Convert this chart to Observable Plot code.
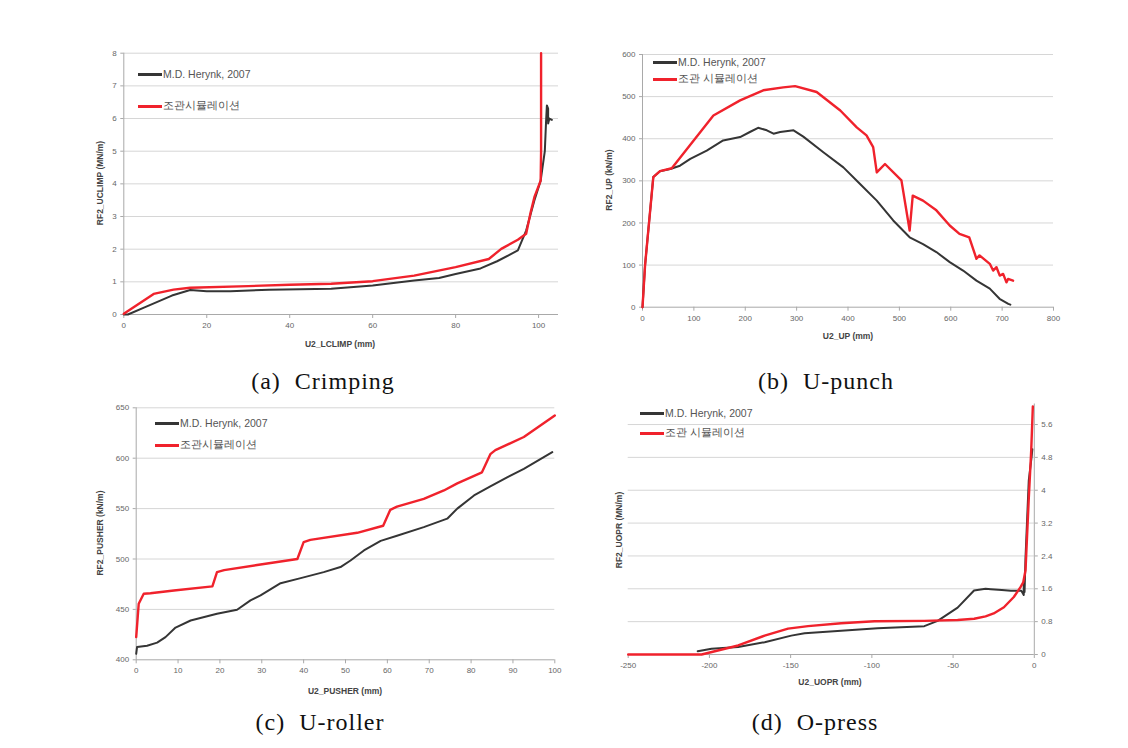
<!DOCTYPE html>
<html>
<head>
<meta charset="utf-8">
<script src="https://cdn.jsdelivr.net/npm/d3@7"></script>
<script src="https://cdn.jsdelivr.net/npm/@observablehq/plot@0.6"></script>
<style>
  html, body { margin: 0; padding: 0; background: #fff; }
  #page { position: relative; width: 1128px; height: 748px; overflow: hidden; font-family: "Liberation Sans", Arial, sans-serif; }
  .panel { position: absolute; }
  .ytitle, .xtitle { position: absolute; font-size: 8.5px; font-weight: bold; color: #444; white-space: nowrap; }
  .ytitle { transform: translate(-50%, -50%) rotate(-90deg); }
  .xtitle { transform: translate(-50%, -50%); }
  .leg { position: absolute; font-size: 10.5px; color: #555; white-space: nowrap; display: flex; align-items: center; }
  .leg i { display: inline-block; width: 24px; height: 3px; margin-right: 1px; }
  .cap { position: absolute; font-family: "Liberation Serif", "DejaVu Serif", serif; font-size: 24px; letter-spacing: 1px; color: #111; white-space: pre; transform: translate(-50%, -50%); }
</style>
</head>
<body>
<div id="page"></div>
<script>
// ---------- (a) Crimping ----------
const aBlackX = [0, 1, 5, 11.6, 16, 20, 25.7, 35, 50, 60, 70, 76, 80, 86, 90, 95, 97, 99, 100.5, 101.5, 101.8, 102, 102.3, 102.3, 102.6, 103.2];
const aBlackY = [0, 0, 0.22, 0.58, 0.75, 0.71, 0.71, 0.76, 0.79, 0.89, 1.04, 1.12, 1.24, 1.41, 1.63, 1.96, 2.57, 3.5, 4.1, 5.0, 5.9, 6.4, 6.3, 5.85, 6.0, 5.96];
const aRedX = [0, 7.2, 12, 16, 30, 40, 50, 60, 70, 80, 88, 91, 95, 97, 98, 99, 100.5, 100.6, 100.6];
const aRedY = [0.02, 0.63, 0.76, 0.82, 0.87, 0.91, 0.94, 1.02, 1.19, 1.45, 1.70, 2.01, 2.29, 2.47, 3.08, 3.6, 4.1, 4.98, 8.0];
const aXTicks = [0, 20, 40, 60, 80, 100];
const aYTicks = [0, 1, 2, 3, 4, 5, 6, 7, 8];

// ---------- (b) U-punch ----------
const bBlackX = [0, 5, 21, 34, 54, 73, 93, 125, 157, 190, 209, 225, 242, 255, 268, 294, 313, 352, 391, 423, 456, 488, 520, 546, 572, 598, 624, 650, 676, 695, 712, 716];
const bBlackY = [0, 100, 309, 323, 328, 336, 352, 372, 396, 404, 416, 426, 420, 412, 416, 420, 405, 368, 332, 293, 253, 206, 166, 150, 131, 107, 87, 63, 44, 20, 8, 6];
const bRedX = [0, 5, 21, 34, 57, 138, 190, 235, 274, 297, 339, 385, 417, 436, 449, 456, 472, 504, 520, 526, 546, 572, 598, 617, 636, 650, 656, 676, 682.5, 689, 695.4, 702, 708.4, 711.6, 721.3];
const bRedY = [0, 100, 309, 323, 330, 455, 491, 515, 522, 525, 511, 467, 427, 408, 380, 320, 340, 301, 182, 265, 253, 230, 194, 174, 166, 115, 123, 103, 87, 95, 75, 79, 59, 67, 63];
const bXTicks = [0, 100, 200, 300, 400, 500, 600, 700, 800];
const bYTicks = [0, 100, 200, 300, 400, 500, 600];

// ---------- (c) U-roller ----------
const cBlackX = [0, 0.2, 2.6, 5, 7, 9.4, 13, 19.3, 24.1, 27.3, 29.7, 34.5, 39.3, 44.8, 48.8, 51.2, 54.4, 58.4, 62.3, 68.7, 74.3, 76.7, 80.7, 84.6, 88.6, 92.6, 99.4];
const cBlackY = [406, 412.6, 414, 417, 422.5, 432, 439, 445.6, 449.6, 459, 464, 476, 481, 487, 492, 498.5, 508.5, 518, 523, 531.6, 540, 550, 563, 572, 581, 589.5, 606];
const cRedX = [0, 0.6, 1.8, 3.4, 9, 18.2, 19.3, 21, 28.9, 38.5, 40, 41.6, 52.8, 59, 60.7, 62.3, 68.7, 73.5, 76.7, 82.6, 84.6, 85.8, 92.6, 100];
const cRedY = [422.5, 455.6, 465.5, 466, 468.8, 472.8, 487, 489, 494, 500, 516.7, 519, 526, 533, 548.8, 552, 559.7, 568, 575, 586, 604, 608, 621, 642.4];
const cXTicks = [0, 10, 20, 30, 40, 50, 60, 70, 80, 90, 100];
const cYTicks = [400, 450, 500, 550, 600, 650];

// ---------- (d) O-press ----------
const dBlackX = [-207.2, -198.7, -182.3, -166, -149.6, -141.4, -118.9, -96.4, -67.7, -59.5, -47.2, -37.1, -30, -26.7, -20, -14.4, -8, -6.5, -6.5, -6, -5.4, -3.4, -1.7, -1.2];
const dBlackY = [0.08, 0.14, 0.18, 0.30, 0.46, 0.52, 0.58, 0.64, 0.69, 0.82, 1.14, 1.56, 1.6, 1.59, 1.57, 1.55, 1.55, 1.45, 1.72, 1.52, 2.37, 4.24, 4.8, 5.0];
const dRedX = [-250, -204.8, -182.3, -166, -151.6, -139.3, -118.9, -98.4, -67.7, -47.2, -37, -30, -25, -18.7, -12.6, -8.5, -6.8, -5.4, -3.4, -1.9, -0.9];
const dRedY = [0, 0, 0.22, 0.46, 0.63, 0.69, 0.76, 0.81, 0.82, 0.84, 0.87, 0.93, 1.0, 1.15, 1.40, 1.64, 1.76, 2.05, 3.8, 4.97, 6.04];
const dXTicks = [-250, -200, -150, -100, -50, 0];
const dYTicks = [0, 0.8, 1.6, 2.4, 3.2, 4, 4.8, 5.6];
const dYLabels = ["0", "0.8", "1.6", "2.4", "3.2", "4", "4.8", "5.6"];

const legendNames = ["M.D. Herynk, 2007", "조관시뮬레이션", "조관 시뮬레이션"];
const captions = ["(a)  Crimping", "(b)  U-punch", "(c)  U-roller", "(d)  O-press"];
const xTitles = ["U2_LCLIMP (mm)", "U2_UP (mm)", "U2_PUSHER (mm)", "U2_UOPR (mm)"];
const yTitles = ["RF2_UCLIMP (MN/m)", "RF2_UP (kN/m)", "RF2_PUSHER (kN/m)", "RF2_UOPR (MN/m)"];

const BLACK = "#353535", RED = "#f0222c", GRID = "#d6d6d6", AXIS = "#a9a9a9", TICKTXT = "#666";
const page = document.getElementById("page");

function zip(xs, ys) { return xs.map((x, i) => ({x, y: ys[i]})); }

function panel(o) {
  const yAxisAt = o.yAnchor === "right" ? o.xDomain[1] : o.xDomain[0];
  const chart = Plot.plot({
    width: o.width, height: o.height,
    marginLeft: o.ml, marginRight: o.mr, marginTop: o.mt, marginBottom: o.mb,
    x: {domain: o.xDomain},
    y: {domain: o.yDomain},
    style: {fontFamily: "Liberation Sans, Arial, sans-serif", fontSize: "8px", background: "transparent"},
    marks: [
      Plot.ruleY(o.yTicks.filter(v => v !== o.yDomain[0]), {stroke: GRID, strokeWidth: 1}),
      Plot.ruleY([o.yDomain[0]], {stroke: AXIS, strokeWidth: 1}),
      Plot.ruleX([yAxisAt], {stroke: AXIS, strokeWidth: 1}),
      Plot.axisX({ticks: o.xTicks, tickSize: 4, tickPadding: 4, stroke: AXIS, fill: TICKTXT, label: null, fontSize: 8,
        tickFormat: d => String(d)}),
      Plot.axisY({ticks: o.yTicks, anchor: o.yAnchor, tickSize: 3, tickPadding: 4, stroke: AXIS, fill: TICKTXT, label: null, fontSize: 8,
        tickFormat: o.yFmt || (d => String(d))}),
      Plot.line(zip(o.blackX, o.blackY), {x: "x", y: "y", stroke: BLACK, strokeWidth: 2, curve: "linear"}),
      Plot.line(zip(o.redX, o.redY), {x: "x", y: "y", stroke: RED, strokeWidth: 2.4, curve: "linear"})
    ]
  });
  const div = document.createElement("div");
  div.className = "panel";
  div.style.left = o.left + "px"; div.style.top = o.top + "px";
  div.appendChild(chart);
  page.appendChild(div);

  const yt = document.createElement("div");
  yt.className = "ytitle"; yt.textContent = o.yTitle;
  yt.style.left = o.yTitlePos[0] + "px"; yt.style.top = o.yTitlePos[1] + "px";
  page.appendChild(yt);
  const xt = document.createElement("div");
  xt.className = "xtitle"; xt.textContent = o.xTitle;
  xt.style.left = o.xTitlePos[0] + "px"; xt.style.top = o.xTitlePos[1] + "px";
  page.appendChild(xt);

  [[BLACK, legendNames[0], o.leg[0]], [RED, o.redName, o.leg[1]]].forEach(([c, t, p]) => {
    const l = document.createElement("div");
    l.className = "leg";
    l.style.left = p[0] + "px"; l.style.top = (p[1] - 7) + "px"; l.style.height = "14px";
    const sw = document.createElement("i"); sw.style.background = c;
    l.appendChild(sw);
    const s = document.createElement("span"); s.textContent = t;
    l.appendChild(s);
    page.appendChild(l);
  });

  const cp = document.createElement("div");
  cp.className = "cap"; cp.textContent = o.caption;
  cp.style.left = o.capPos[0] + "px"; cp.style.top = o.capPos[1] + "px";
  page.appendChild(cp);
}

panel({left: 60, top: 40, width: 520, height: 320, ml: 63.3, mr: 22, mt: 12.7, mb: 46,
  xDomain: [0, 104.8], yDomain: [0, 8], xTicks: aXTicks, yTicks: aYTicks, yAnchor: "left",
  blackX: aBlackX, blackY: aBlackY, redX: aRedX, redY: aRedY,
  yTitle: yTitles[0], yTitlePos: [100, 183], xTitle: xTitles[0], xTitlePos: [340, 344],
  redName: legendNames[1], leg: [[138, 74], [138, 106]], caption: captions[0], capPos: [323, 381]});

panel({left: 580, top: 40, width: 490, height: 310, ml: 62, mr: 17, mt: 14, mb: 43.3,
  xDomain: [0, 800], yDomain: [0, 600], xTicks: bXTicks, yTicks: bYTicks, yAnchor: "left",
  blackX: bBlackX, blackY: bBlackY, redX: bRedX, redY: bRedY,
  yTitle: yTitles[1], yTitlePos: [609, 180], xTitle: xTitles[1], xTitlePos: [848, 336],
  redName: legendNames[2], leg: [[653, 62], [653, 79]], caption: captions[1], capPos: [826, 381]});

panel({left: 60, top: 395, width: 510, height: 310, ml: 75.7, mr: 15.7, mt: 12.3, mb: 45.7,
  xDomain: [0, 100], yDomain: [400, 650], xTicks: cXTicks, yTicks: cYTicks, yAnchor: "left",
  blackX: cBlackX, blackY: cBlackY, redX: cRedX, redY: cRedY,
  yTitle: yTitles[2], yTitlePos: [100, 533], xTitle: xTitles[2], xTitlePos: [345, 691],
  redName: legendNames[1], leg: [[155, 423], [155, 445]], caption: captions[2], capPos: [320, 722]});

panel({left: 580, top: 395, width: 490, height: 310, ml: 47.7, mr: 36.2, mt: 8.5, mb: 51,
  xDomain: [-250, 0], yDomain: [0, 6.1], xTicks: dXTicks, yTicks: dYTicks, yAnchor: "right",
  yFmt: d => dYLabels[dYTicks.indexOf(d)] ?? String(d),
  blackX: dBlackX, blackY: dBlackY, redX: dRedX, redY: dRedY,
  yTitle: yTitles[3], yTitlePos: [619, 530], xTitle: xTitles[3], xTitlePos: [830, 682],
  redName: legendNames[2], leg: [[640, 413], [640, 433]], caption: captions[3], capPos: [815, 722]});
</script>
</body>
</html>
